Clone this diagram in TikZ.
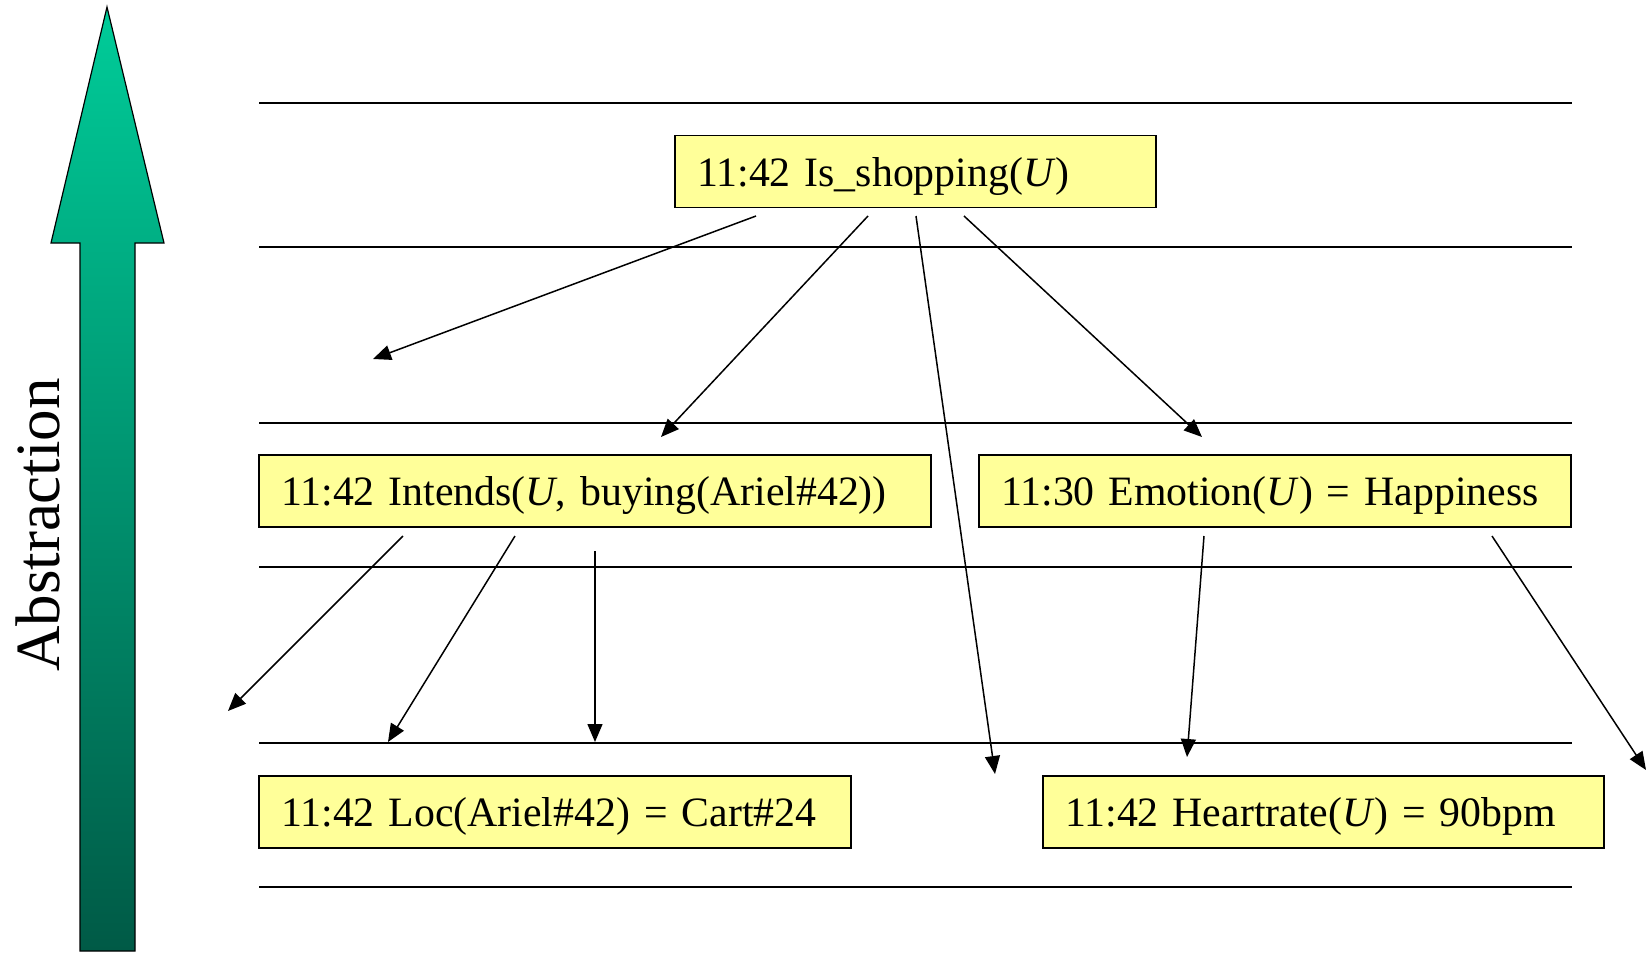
\documentclass[tikz,border=0pt]{standalone}
\usepackage{fontspec}
\setmainfont{Liberation Serif}
\usetikzlibrary{arrows.meta}
\definecolor{boxyellow}{HTML}{FFFF99}
\definecolor{greentop}{HTML}{00CC99}
\definecolor{greenbot}{HTML}{005A46}
\begin{document}
\begin{tikzpicture}[x=0.5pt,y=-0.5pt,
  fact/.style={draw=black, fill=boxyellow, line width=0.8pt, minimum height=36pt,
    inner xsep=11.1pt, inner ysep=0pt, align=left,
    font=\fontsize{20.9}{25}\selectfont, text height=19.3pt, text depth=4.7pt},
  level/.style={line width=0.8pt},
  link/.style={line width=0.75pt, -{Triangle[length=9pt,width=7.5pt]}}]
\useasboundingbox (0,0) rectangle (1646,953);

% abstraction arrow
\shade[top color=greentop, bottom color=greenbot, draw=black, line width=0.6pt]
  (107,7) -- (164,243) -- (135,243) -- (135,951) -- (80,951) -- (80,243) -- (51,243) -- cycle;
\node[rotate=90, anchor=base, font=\fontsize{31.5}{36}\selectfont] (abs) at (60,525) {Abstraction};

% level lines
\foreach \y/\n in {103/l1,247/l2,423/l3,567/l4,743/l5,887/l6}{
  \coordinate (\n a) at (259,\y);
  \coordinate (\n b) at (1572,\y);
  \draw[level] (\n a) -- (\n b);
}

% facts
\node[fact, text width=218.3pt] (shop) at (915.5,171.5) {11:42 Is\_shopping(\textit{U})};
\node[fact, text width=313.8pt] (intends) at (595,491) {11:42 Intends(\textit{U}, buying(Ariel\#42))};
\node[fact, text width=273.8pt] (emotion) at (1275,491) {11:30 Emotion(\textit{U}) = Happiness};
\node[fact, text width=273.8pt] (loc) at (555,812) {11:42 Loc(Ariel\#42) = Cart\#24};
\node[fact, text width=258.3pt] (heart) at (1323.5,812) {11:42 Heartrate(\textit{U}) = 90bpm};

% arrow ends
\coordinate (s1) at (756,216);  \coordinate (e1) at (373,359);
\coordinate (s2) at (868,216);  \coordinate (e2) at (661,437);
\coordinate (s3) at (916,216);  \coordinate (e3) at (995,774);
\coordinate (s4) at (964,216);  \coordinate (e4) at (1202,437);
\coordinate (s5) at (403,536);  \coordinate (e5) at (228,711);
\coordinate (s6) at (515,536);  \coordinate (e6) at (388,742);
\coordinate (s7) at (595,551);  \coordinate (e7) at (595,742);
\coordinate (s8) at (1204,536); \coordinate (e8) at (1187,757);
\coordinate (s9) at (1492,536); \coordinate (e9) at (1646,770);

\foreach \i in {1,...,9}{ \draw[link] (s\i) -- (e\i); }
\end{tikzpicture}
\end{document}
